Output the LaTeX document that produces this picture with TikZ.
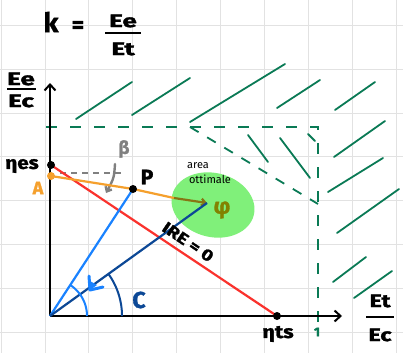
\documentclass[tikz,border=0pt]{standalone}
\usepackage{fontspec}
\setmainfont{Fira Sans}[BoldFeatures={FakeBold=1.5}]
\usetikzlibrary{arrows.meta}
\definecolor{gridc}{RGB}{226,226,226}
\definecolor{hatchc}{RGB}{10,122,85}
\definecolor{areac}{RGB}{128,240,122}
\definecolor{redc}{RGB}{250,50,45}
\definecolor{orangec}{RGB}{245,160,45}
\definecolor{oranged}{RGB}{135,118,20}
\definecolor{lbluec}{RGB}{25,130,255}
\definecolor{dbluec}{RGB}{12,72,150}
\definecolor{olivec}{RGB}{130,130,0}
\definecolor{grayc}{RGB}{128,128,128}
\tikzset{
  gridline/.style={draw=gridc, line width=0.9pt},
  axisline/.style={draw=black, line width=2.2pt},
  hatch/.style={draw=hatchc, line width=1.8pt, line cap=round},
  dashg/.style={draw=hatchc, line width=1.8pt, dash pattern=on 11pt off 13pt},
  dot/.style={circle, fill=#1, inner sep=0pt, minimum size=8pt},
  dot/.default=black,
  lbl/.style={font=\bfseries\fontsize{18}{18}\selectfont, inner sep=0pt},
  frac/.style={font=\bfseries\fontsize{18}{18}\selectfont, inner sep=0pt, xscale=1.45},
  bigl/.style={font=\bfseries\fontsize{21}{21}\selectfont, inner sep=0pt},
  fbar/.style={draw=black, line width=2.4pt},
}
\begin{document}
\begin{tikzpicture}[x=1pt,y=-1pt]
\useasboundingbox (0,0) rectangle (403,353);
\fill[white] (0,0) rectangle (403,353);
% grid
\foreach \gx in {1,45,88.5,132,176,220,264,308,352,396} \draw[gridline] (\gx,0) -- (\gx,353);
\foreach \gy in {25,69,113,156.5,200,244,288,332} \draw[gridline] (0,\gy) -- (403,\gy);
% optimal area
\fill[areac, rotate around={-14:(213,205)}] (213,205) ellipse [x radius=42pt, y radius=32pt];
% hatching
\foreach \a/\b/\c/\d in {76/119/132/82, 132/115/190/78, 190/122/285/64, 277/108/320/80,
  335/110/375/82, 334/157/385/121, 328/192/383/158, 337/233/399/189, 333/282/366/257,
  354/298/392/271, 248/135/268/162, 280/138/310/178}
  \draw[hatch] (\a,\b) -- (\c,\d);
% dashed boundary
\coordinate (d1) at (46,127);
\coordinate (d2) at (318,127);
\coordinate (d3) at (318,322);
\coordinate (e1) at (190,127);
\coordinate (e2) at (318,204);
\coordinate (f1) at (308,134);
\coordinate (f2) at (315,141);
\draw[dashg] (d1) -- (d2) -- (d3);
\draw[dashg, dash pattern=on 10pt off 10pt] (e1) -- (e2);
\draw[hatch] (f1) -- (f2);
\node[font=\bfseries\fontsize{13}{13}\selectfont, text=hatchc, inner sep=0pt] (one) at (317,332) {1};
% axes
\coordinate (O) at (50,316);
\coordinate (yt) at (50,83);
\coordinate (xt) at (342,316);
\draw[axisline, -{Straight Barb[length=6pt,width=11pt,line width=2pt]}] (O) -- (yt);
\draw[axisline, -{Straight Barb[length=6pt,width=11pt,line width=2pt]}] (O) -- (xt);
% points
\coordinate (hesc) at (51,165);
\coordinate (Ac) at (51,176);
\coordinate (Pc) at (133,189);
\coordinate (htsc) at (277,316);
\coordinate (Qc) at (207,203);
\coordinate (Qe) at (174,198);
% beta
\coordinate (b1) at (60,173);
\coordinate (b2) at (123,173);
\draw[grayc, line width=1.6pt, dash pattern=on 6pt off 5pt] (b1) -- (b2);
\coordinate (g1) at (115,164);
\coordinate (g2) at (106,193);
\draw[grayc, line width=2.4pt, line cap=round, -{Straight Barb[length=4pt,width=7pt]}] (g1) .. controls (114,178) .. (g2);
\node[lbl, text=grayc] (beta) at (124,149) {β};
% lines
\draw[redc, line width=2.2pt] (hesc) -- (htsc);
\draw[orangec, line width=2.2pt] (Ac) -- (Pc) -- (Qe);
\draw[oranged, line width=2.2pt, -{Straight Barb[length=4pt,width=7pt]}] (Qe) -- (Qc);
\draw[lbluec, line width=2.2pt] (O) -- (Pc);
\draw[dbluec, line width=2.2pt] (O) -- (Qc);
% angle arcs
\draw[lbluec, line width=2pt] plot[domain=0:57, samples=30] ({50+37*cos(\x)},{316-37*sin(\x)});
\draw[dbluec, line width=2pt] plot[domain=0:36, samples=30] ({50+72*cos(\x)},{316-72*sin(\x)});
\coordinate (t0) at (90,290);
\coordinate (t1) at (89,276);
\coordinate (t2) at (103,287);
\draw[lbluec, line width=3pt, line cap=round, line join=round] (t1) -- (t0) -- (t2);
\fill[lbluec] (t0) -- (90,281) -- (97,285) -- cycle;
\node[bigl, text=dbluec, font=\bfseries\fontsize{23}{23}\selectfont] (C) at (139,300) {C};
% dots
\node[dot] (hes) at (hesc) {};
\node[dot=orangec] (A) at (Ac) {};
\node[dot] (P) at (Pc) {};
\node[dot] (hts) at (htsc) {};
% labels
\node[lbl, xscale=1.15] (hesl) at (22,166) {ηes};
\node[lbl, text=orangec] (Al) at (38,188) {A};
\node[bigl] (Pl) at (147,177) {P};
\node[lbl, xscale=1.2] (htsl) at (278,334) {ηts};
\node[font=\bfseries\fontsize{16}{16}\selectfont, inner sep=0pt, rotate=-34, xscale=1.2] (ire) at (188,242) {IRE = 0};
\node[font=\fontsize{11}{11}\selectfont, inner sep=0pt] (ar1) at (198,166) {area};
\node[font=\fontsize{11}{11}\selectfont, inner sep=0pt] (ar2) at (210,179) {ottimale};
\node[font=\bfseries\fontsize{22}{22}\selectfont, text=olivec, inner sep=0pt] (phi) at (222,210) {φ};
% title
\node[font=\bfseries\fontsize{27}{27}\selectfont, inner sep=0pt] (k) at (51,22) {k};
\node[font=\bfseries\fontsize{24}{24}\selectfont, inner sep=0pt] (eq) at (78,27) {=};
\node[frac] (tn) at (123,21) {Ee};
\node[frac] (td) at (123,49) {Et};
\draw[fbar] (105,33) -- (141,33);
% axis labels
\node[frac] (yn) at (21,79) {Ee};
\node[frac] (yd) at (21,101) {Ec};
\draw[fbar] (7,89) -- (36,89);
\node[frac, xscale=0.9] (xn) at (380,301) {Et};
\node[frac, xscale=0.9] (xd) at (380,335) {Ec};
\draw[fbar] (366,317) -- (394,317);
\end{tikzpicture}
\end{document}
